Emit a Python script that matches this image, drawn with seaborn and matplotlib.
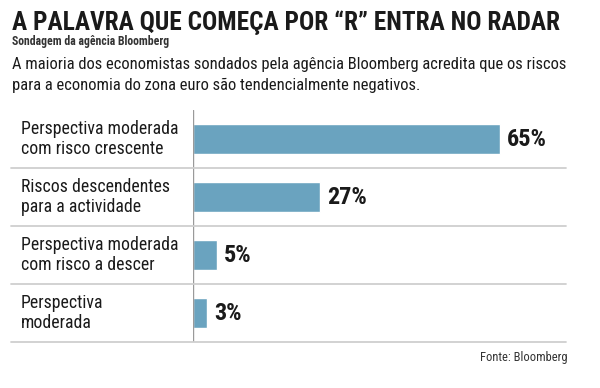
import matplotlib
matplotlib.use("Agg")
import matplotlib.pyplot as plt
import seaborn as sns

# chart data
categories = [
    "Perspectiva moderada\ncom risco crescente",
    "Riscos descendentes\npara a actividade",
    "Perspectiva moderada\ncom risco a descer",
    "Perspectiva\nmoderada",
]
values = [65, 27, 5, 3]
value_labels = ["65%", "27%", "5%", "3%"]

title = "A PALAVRA QUE COMEÇA POR “R” ENTRA NO RADAR"
subtitle = "Sondagem da agência Bloomberg"
intro = ("A maioria dos economistas sondados pela agência Bloomberg acredita que os riscos\n"
         "para a economia do zona euro são tendencialmente negativos.")
source = "Fonte: Bloomberg"

BAR_COLOR = "#6aa3bf"
TEXT = "#1a1a1a"
FONT = ["Roboto Condensed", "Liberation Sans Narrow", "Lato", "DejaVu Sans"]

sns.set_theme(style="white")
plt.rcParams["font.family"] = FONT

W, H = 600, 388
fig = plt.figure(figsize=(W / 100, H / 100), dpi=100)

# axes box in pixel coords: left 193, right 566, top 110, bottom 342
left, right, top, bottom = 193, 566, 110, 342
ax = fig.add_axes([left / W, 1 - bottom / H, (right - left) / W, (bottom - top) / H])

sns.barplot(x=values, y=categories, orient="h", color=BAR_COLOR, width=0.52,
            saturation=1, ax=ax)
ax.set_xlim(0, 79)
ax.set_ylim(3.5, -0.5)

for spine in ax.spines.values():
    spine.set_visible(False)
ax.axvline(0, color="#9a9a9a", lw=1)
ax.set_xticks([])
ax.set_yticks([])
ax.set_xlabel("")
ax.set_ylabel("")

# separators between rows, reaching out to the label column
trans = ax.get_yaxis_transform()
x0 = (11 - left) / (right - left)
xl = (21 - left) / (right - left)
for yy in [0.5, 1.5, 2.5, 3.5]:
    ax.plot([x0, 1], [yy, yy], transform=trans, color="#cfcfcf", lw=1.3,
            clip_on=False)

for i, (cat, v, lab) in enumerate(zip(categories, values, value_labels)):
    ax.text(xl, i, cat, transform=trans, ha="left", va="center",
            fontsize=12.8, color=TEXT, linespacing=1.1)
    ax.text(v + 1.5, i, lab, ha="left", va="center", fontsize=17.5,
            fontweight="bold", color=TEXT)

fig.text(12 / W, 1 - 23 / H, title, fontsize=18.3, fontweight="heavy",
         color=TEXT, va="center", ha="left")
fig.text(12 / W, 1 - 41 / H, subtitle, fontsize=8.5, fontweight="bold",
         color="#333333", va="center", ha="left")
fig.text(12 / W, 1 - 75 / H, intro, fontsize=11.9, color=TEXT,
         va="center", ha="left", linespacing=1.42)
fig.text(567 / W, 1 - 357 / H, source, fontsize=9, color="#333333",
         va="center", ha="right")

fig.savefig("out.png", dpi=100)
